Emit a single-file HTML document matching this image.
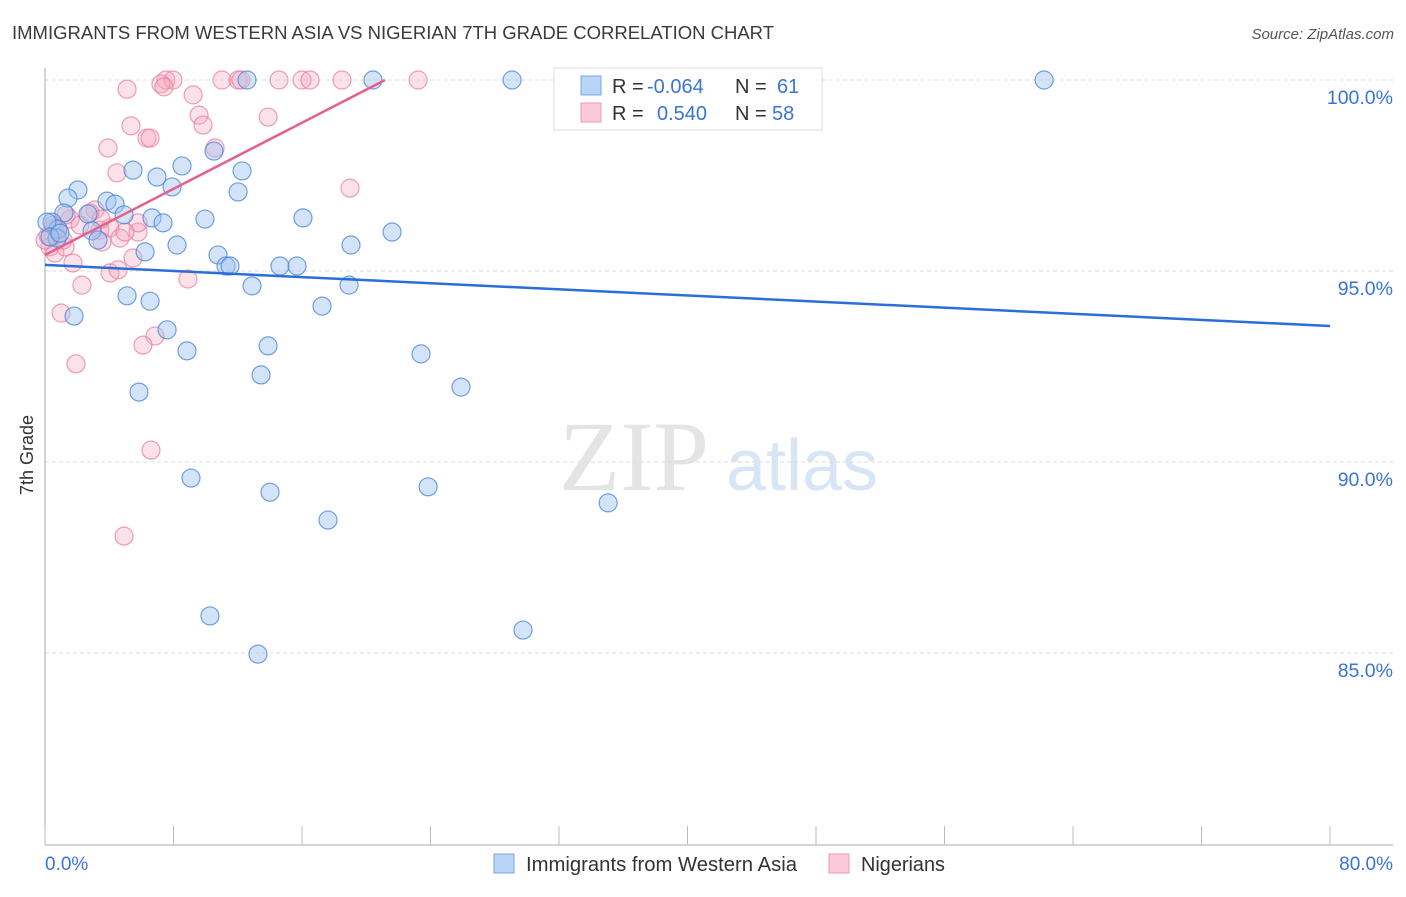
<!DOCTYPE html>
<html><head><meta charset="utf-8"><style>
body{margin:0;background:#fff;font-family:"Liberation Sans",sans-serif}
</style></head><body>
<svg id="chart" width="1406" height="892" xmlns="http://www.w3.org/2000/svg" font-family="Liberation Sans, sans-serif">
<text x="12" y="39" font-size="18" fill="#3a3a3a" textLength="762" lengthAdjust="spacingAndGlyphs">IMMIGRANTS FROM WESTERN ASIA VS NIGERIAN 7TH GRADE CORRELATION CHART</text>
<text x="1394" y="39" font-size="15" fill="#555" text-anchor="end" font-style="italic">Source: ZipAtlas.com</text>
<g>
<text x="634" y="490" font-size="100" fill="#e4e4e4" text-anchor="middle" style="font-family:'Liberation Serif',serif">ZIP</text>
<text x="802" y="490" font-size="72" fill="#d8e5f5" text-anchor="middle">atlas</text>
</g>
<g id="grid"></g>
<g id="axes"></g>
<g id="pts"></g>
<g id="lines"></g>
<g>
<rect x="554" y="68" width="268" height="62" fill="#fff" stroke="#ddd"/>
<rect x="581" y="76" width="20" height="19" fill="#b8d4f6" stroke="#7aa8e6"/>
<rect x="581" y="103" width="20" height="19" fill="#fbc9d7" stroke="#f09ab4"/>
<text x="612" y="93" font-size="20" fill="#333">R = <tspan fill="#3a74d8" x="647">-0.064</tspan></text>
<text x="735" y="93" font-size="20" fill="#333">N = <tspan fill="#3a74d8" x="777">61</tspan></text>
<text x="612" y="120" font-size="20" fill="#333">R = <tspan fill="#3a74d8" x="657">0.540</tspan></text>
<text x="735" y="120" font-size="20" fill="#333">N = <tspan fill="#3a74d8" x="772">58</tspan></text>
</g>
<g>
<rect x="494" y="854" width="20" height="19" fill="#b8d4f6" stroke="#7aa8e6"/>
<text x="526" y="871" font-size="20" fill="#333" textLength="271" lengthAdjust="spacingAndGlyphs">Immigrants from Western Asia</text>
<rect x="829" y="854" width="20" height="19" fill="#fbc9d7" stroke="#f09ab4"/>
<text x="861" y="871" font-size="20" fill="#333" textLength="84" lengthAdjust="spacingAndGlyphs">Nigerians</text>
</g>
<text transform="translate(33,455) rotate(-90)" font-size="18" fill="#333" text-anchor="middle">7th Grade</text>
<text x="45" y="870" font-size="19" fill="#3a74d8">0.0%</text>
<text x="1393" y="870" font-size="19" fill="#3a74d8" text-anchor="end">80.0%</text>
</svg>
<script>
const blueX=[12.58,20.42,29.08,42.40,62.20,10.52,8.53,5.48,6.97,12.27,2.05,7.91,12.02,1.43,3.86,4.36,1.18,2.68,4.92,6.66,7.35,9.96,16.06,0.44,0.81,2.93,3.30,8.22,6.23,10.77,19.05,21.61,0.75,11.27,14.63,15.69,11.52,12.89,18.93,5.11,6.54,17.25,1.81,7.60,8.84,13.89,23.41,13.45,25.90,5.85,9.09,14.01,23.85,17.62,35.06,10.27,29.76,13.26,0.12,0.31,0.93];
const blueY=[100,100,100,100,100,98.14,97.75,97.64,97.46,97.62,97.12,97.20,97.07,96.91,96.83,96.75,96.52,96.49,96.47,96.39,96.26,96.36,96.39,96.28,96.10,96.05,95.81,95.68,95.50,95.42,95.68,96.02,95.86,95.13,95.13,95.13,95.13,94.61,94.63,94.35,94.21,94.08,93.82,93.46,92.91,93.04,92.83,92.28,91.96,91.83,89.58,89.21,89.35,88.48,88.93,85.97,85.60,84.97,96.28,95.89,95.99];
const pinkX=[7.53,7.97,11.02,12.02,12.20,14.57,16.00,16.50,18.49,23.23,5.11,7.22,7.41,9.22,9.59,9.84,13.89,5.35,3.92,6.35,6.54,10.59,4.48,18.99,0.81,1.56,2.18,3.11,3.42,4.05,4.67,5.79,5.79,4.98,0.19,0.31,0.62,1.25,1.74,2.30,4.05,4.55,5.48,8.90,6.85,6.10,1.00,1.93,6.60,4.92,1.12,0.62,2.80,3.49,1.31,0.50,3.55,0];
const pinkY=[100,100,100,100,100,100,100,100,100,100,99.76,99.90,99.82,99.61,99.08,98.82,99.03,98.80,98.22,98.48,98.48,98.22,97.57,97.17,96.07,96.36,96.20,96.60,96.07,96.13,95.86,96.02,96.26,96.02,95.92,95.63,95.47,95.63,95.21,94.63,94.95,95.03,95.34,94.79,93.30,93.06,93.90,92.57,90.31,88.06,95.81,96.13,96.52,96.36,96.47,96.20,95.76,95.81];
const blueLine=[[0,95.16],[80,93.56]];
const pinkLine=[[0,95.42],[21.17,100]];
const yTicks=[100,95,90,85];
const yTickLabels=["100.0%","95.0%","90.0%","85.0%"];
const xTicks=[0,8,16,24,32,40,48,56,64,72,80];
const NS="http://www.w3.org/2000/svg";
const sx=v=>45+v*16.0625, sy=v=>80+(100-v)*38.2;
function mk(p,tag,a){const e=document.createElementNS(NS,tag);for(const k in a)e.setAttribute(k,a[k]);document.getElementById(p).appendChild(e);return e;}
yTicks.forEach((t,i)=>{
 const l=mk('grid','line',{x1:45,x2:1393,y1:sy(t),y2:sy(t),stroke:'#ddd','stroke-dasharray':'4,3'});
 
 
 const tx=mk('grid','text',{x:1393,y:sy(t)+24,'font-size':19.5,fill:'#3a74d8','text-anchor':'end'});
 tx.textContent=yTickLabels[i];
 
 
});
const ya=mk('axes','line',{x1:45,x2:45,y1:68,y2:845,stroke:'#aaa'});


const xa=mk('axes','line',{x1:45,x2:1393,y1:845,y2:845,stroke:'#aaa'});


xTicks.forEach(t=>{const e=mk('axes','line',{x1:sx(t),x2:sx(t),y1:826,y2:845,stroke:'#bbb'});
 
 });
function pts(X,Y,fill,stroke,name){X.forEach((x,i)=>{const c=mk('pts','circle',{cx:sx(x),cy:sy(Y[i]),r:9,fill:fill,stroke:stroke,'stroke-width':1.2});
 
 });}
pts(pinkX,pinkY,'rgba(244,168,190,0.35)','rgba(232,120,155,0.7)','nigerians-point');
pts(blueX,blueY,'rgba(160,196,240,0.45)','rgba(70,130,215,0.75)','western-asia-point');
const bl=mk('lines','line',{x1:sx(blueLine[0][0]),y1:sy(blueLine[0][1]),x2:sx(blueLine[1][0]),y2:sy(blueLine[1][1]),stroke:'#2a6fd6','stroke-width':2.5});


const pl=mk('lines','line',{x1:sx(pinkLine[0][0]),y1:sy(pinkLine[0][1]),x2:sx(pinkLine[1][0]),y2:sy(pinkLine[1][1]),stroke:'#e5608c','stroke-width':2.5});


</script>
</body></html>
